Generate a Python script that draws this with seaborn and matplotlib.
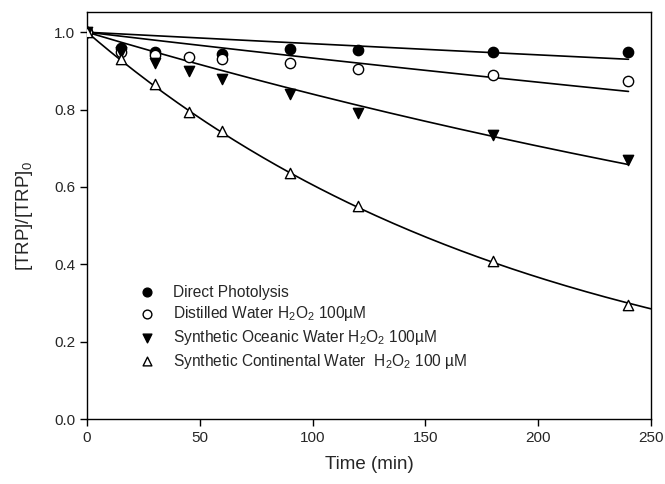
import numpy as np
import pandas as pd
import matplotlib.pyplot as plt
import seaborn as sns

sns.set_style("ticks")
plt.rcParams['font.family'] = ['Liberation Sans', 'DejaVu Sans']
plt.rcParams['mathtext.fontset'] = 'custom'
plt.rcParams['mathtext.rm'] = 'Liberation Sans'
plt.rcParams['mathtext.it'] = 'Liberation Sans'

# time points (min)
time = [0, 15, 30, 45, 60, 90, 120, 180, 240]

direct = [1.0, 0.96, 0.95, np.nan, 0.945, 0.957, 0.955, 0.95, 0.95]
distilled = [1.0, 0.95, 0.94, 0.935, 0.93, 0.92, 0.905, 0.89, 0.875]
oceanic = [1.0, 0.95, 0.92, 0.90, 0.88, 0.84, 0.79, 0.735, 0.67]
continental = [1.0, 0.93, 0.865, 0.795, 0.745, 0.635, 0.55, 0.41, 0.295]

labels = ["Direct Photolysis",
          "Distilled Water H$_2$O$_2$ 100µM",
          "Synthetic Oceanic Water H$_2$O$_2$ 100µM",
          "Synthetic Continental Water  H$_2$O$_2$ 100 µM"]

# pseudo-first-order rate constants of fitted curves (1/min) and fit ranges
rate_k = [0.000302, 0.000692, 0.001744, 0.00502]
fit_end = [240, 240, 240, 250]

markers = ['o', 'o', 'v', '^']
faces = ['black', 'white', 'black', 'white']

fig = plt.figure(figsize=(6.65, 4.84), dpi=100)
ax = fig.add_axes([0.131, 0.134, 0.848, 0.841])

series = [direct, distilled, oceanic, continental]
for vals, lab, k, te, m, fc in zip(series, labels, rate_k, fit_end, markers, faces):
    tt = np.linspace(0, te, 200)
    fit = pd.DataFrame({'t': tt, 'y': np.exp(-k * tt)})
    sns.lineplot(data=fit, x='t', y='y', ax=ax, color='black', lw=1.2, legend=False)
    df = pd.DataFrame({'t': time, 'y': vals}).dropna()
    sns.scatterplot(data=df, x='t', y='y', ax=ax, marker=m, color=fc,
                    edgecolor='black', linewidth=1.0, s=55, label=lab, zorder=3)

ax.set_xlim(0, 250)
ax.set_ylim(0, 1.052)
ax.set_xticks([0, 50, 100, 150, 200, 250])
ax.set_yticks([0.0, 0.2, 0.4, 0.6, 0.8, 1.0])
ax.set_yticklabels(['0.0', '0.2', '0.4', '0.6', '0.8', '1.0'])
ax.tick_params(direction='out', length=5, width=1, labelsize=11, color='black')
for sp in ax.spines.values():
    sp.set_linewidth(1.0)
    sp.set_color('black')
ax.set_xlabel("Time (min)", fontsize=13.5, labelpad=8)
ax.set_ylabel("[TRP]/[TRP]$_0$", fontsize=13.5, labelpad=14)

ax.legend(loc='upper left', bbox_to_anchor=(0.068, 0.346), frameon=False,
          fontsize=11.2, handletextpad=0.67, labelspacing=0.3, borderaxespad=0,
          markerscale=0.85)

fig.savefig("out.png", dpi=100)
